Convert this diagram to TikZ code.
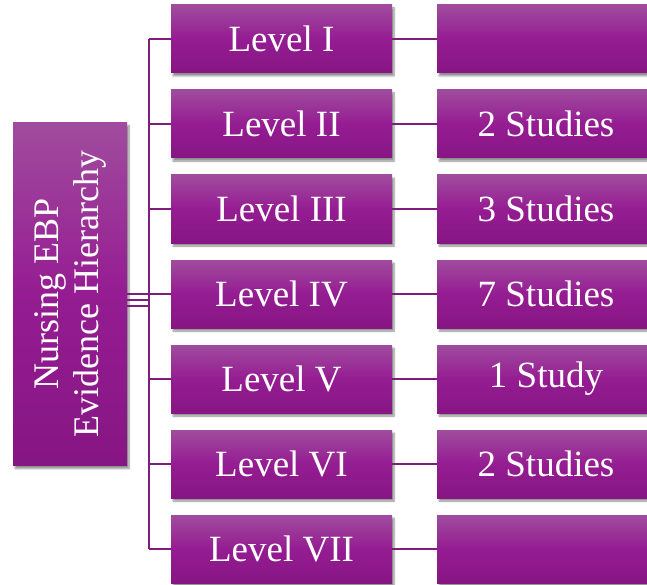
\documentclass[tikz,border=0pt]{standalone}
\usepackage{fontspec}
\setmainfont{Liberation Serif}
\usetikzlibrary{shadows.blur}
\definecolor{ptop}{HTML}{A04C9E}
\definecolor{pmid}{HTML}{951C92}
\definecolor{pbot}{HTML}{861683}
\definecolor{pline}{HTML}{7E1D7B}
\tikzset{
  box/.style={rectangle, top color=ptop, bottom color=pbot, middle color=pmid,
    text=white, font=\fontsize{37}{40}\selectfont, inner sep=0pt,
    blur shadow={shadow xshift=2pt, shadow yshift=-3pt, shadow blur steps=6, shadow opacity=45}},
  levelbox/.style={box, minimum width=221pt, minimum height=68pt},
  countbox/.style={box, minimum width=218pt, minimum height=68pt},
  link/.style={draw=pline, line width=2pt},
  roottext/.style={text=white, align=center, rotate=90, font=\fontsize{36}{40}\selectfont, inner sep=0pt},
}
\begin{document}
\begin{tikzpicture}[x=1pt,y=-1pt]
\useasboundingbox (0,0) rectangle (647,585);
\node[box, minimum width=114pt, minimum height=343pt] (root) at (70,294) {};
\node[roottext] (rootlabel) at (root.center) {Nursing EBP\\Evidence Hierarchy};
\foreach \i/\lab/\cnt [count=\k from 0] in {1/Level I/{}, 2/Level II/2 Studies, 3/Level III/3 Studies, 4/Level IV/7 Studies, 5/Level V/1 Study, 6/Level VI/2 Studies, 7/Level VII/{}} {
  \node[levelbox] (L\i) at (281.5, 39+85*\k) {\lab};
  \node[countbox] (C\i) at (546, 39+85*\k) {\cnt};
  \draw[link] (L\i.east) -- (C\i.west);
  \coordinate (S\i) at ([xshift=-22pt]L\i.west);
  \draw[link] (S\i) -- (L\i.west);
}
\draw[link] (S1) -- (S7);
\draw[link] (root.east) -- (S4);
\draw[link] ([yshift=-6pt]root.east) -- ([yshift=-6pt]S4);
\draw[link] ([yshift=-12pt]root.east) -- ([yshift=-12pt]S4);
\end{tikzpicture}
\end{document}
